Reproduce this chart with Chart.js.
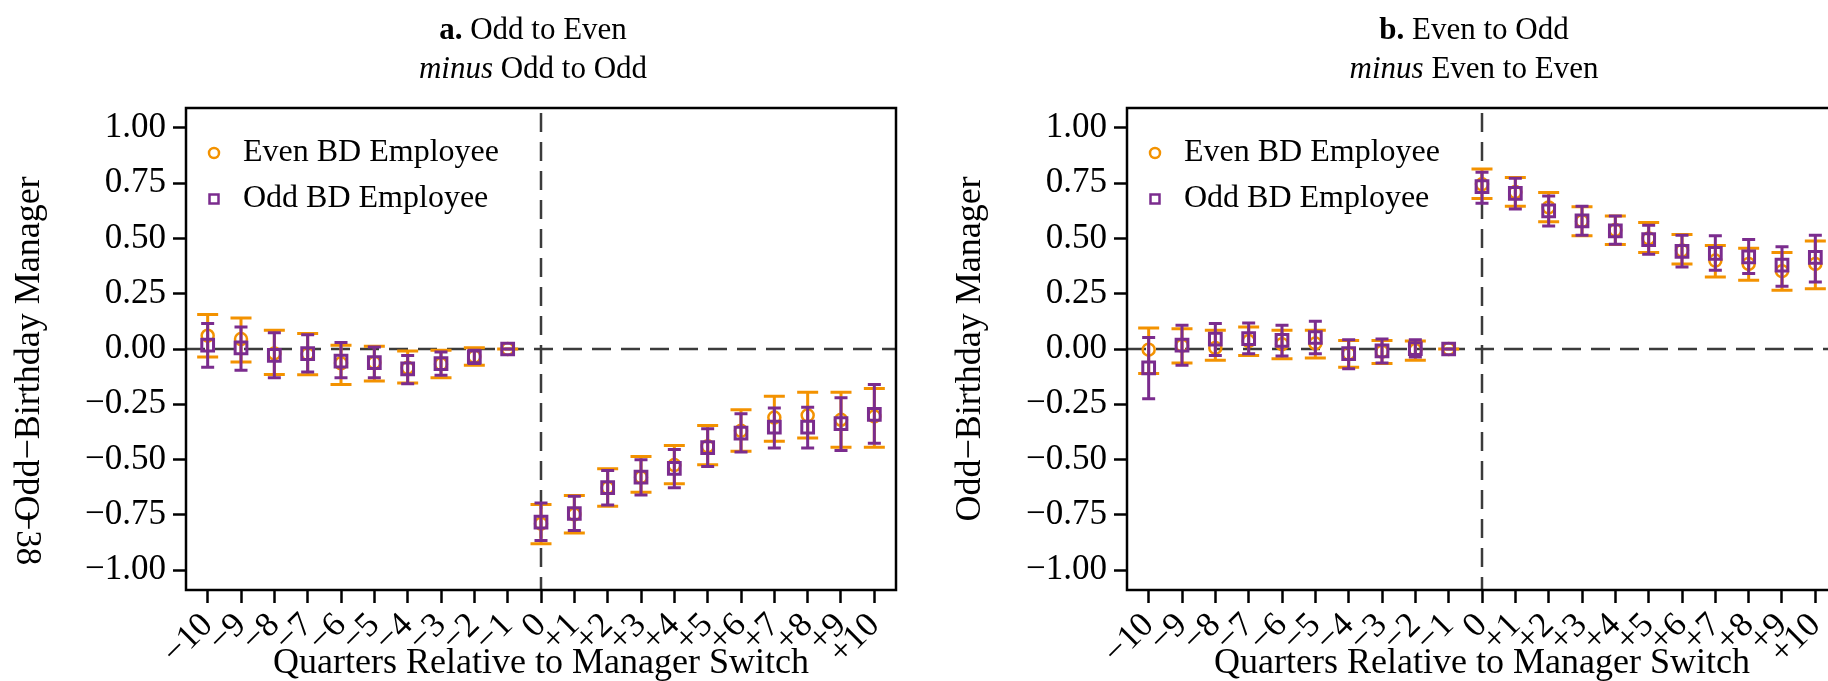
<!DOCTYPE html>
<html>
<head>
<meta charset="utf-8">
<script src="https://cdn.jsdelivr.net/npm/chart.js@4.4.1/dist/chart.umd.min.js"></script>
<style>
  html, body { margin: 0; padding: 0; width: 1828px; height: 681px; overflow: hidden; background: #fff; }
  canvas { position: absolute; top: 0; }
  #panelA { left: 0; }
  #panelB { left: 941px; }
</style>
</head>
<body>
<canvas id="panelA" width="941" height="690"></canvas>
<canvas id="panelB" width="941" height="690"></canvas>
<script>
const quarters = [-10, -9, -8, -7, -6, -5, -4, -3, -2, -1, 0, 1, 2, 3, 4, 5, 6, 7, 8, 9, 10];
const quarterLabels = ['\u221210', '\u22129', '\u22128', '\u22127', '\u22126', '\u22125', '\u22124', '\u22123', '\u22122', '\u22121',
    '0', '+1', '+2', '+3', '+4', '+5', '+6', '+7', '+8', '+9', '+10'];
const yTicks = [-1, -0.75, -0.5, -0.25, 0, 0.25, 0.5, 0.75, 1];
const seriesNames = ['Even BD Employee', 'Odd BD Employee'];

// a. Odd to Even minus Odd to Odd
const evenA   = [0.060, 0.045, -0.020, -0.023, -0.065, -0.062, -0.085, -0.068, -0.034, 0, -0.790, -0.748, -0.628, -0.580, -0.525, -0.440, -0.370, -0.310, -0.300, -0.320, -0.305];
const evenALo = [-0.036, -0.059, -0.115, -0.116, -0.161, -0.145, -0.154, -0.130, -0.074, 0, -0.881, -0.832, -0.711, -0.648, -0.610, -0.524, -0.462, -0.417, -0.403, -0.444, -0.444];
const evenAHi = [0.156, 0.140, 0.085, 0.070, 0.017, 0.012, -0.009, -0.006, 0.006, 0, -0.703, -0.663, -0.542, -0.486, -0.436, -0.346, -0.275, -0.214, -0.196, -0.196, -0.179];
const oddA    = [0.017, 0.005, -0.029, -0.021, -0.055, -0.062, -0.090, -0.066, -0.036, 0, -0.783, -0.744, -0.627, -0.580, -0.540, -0.446, -0.380, -0.353, -0.353, -0.338, -0.296];
const oddALo  = [-0.082, -0.096, -0.130, -0.104, -0.130, -0.130, -0.157, -0.119, -0.066, 0, -0.866, -0.821, -0.705, -0.660, -0.628, -0.531, -0.466, -0.448, -0.448, -0.459, -0.426];
const oddAHi  = [0.115, 0.100, 0.074, 0.065, 0.029, 0.009, -0.029, -0.014, -0.006, 0, -0.696, -0.666, -0.549, -0.501, -0.454, -0.361, -0.293, -0.267, -0.263, -0.220, -0.160];

// b. Even to Odd minus Even to Even
const evenB   = [-0.003, 0.015, 0.005, 0.036, 0.022, 0.025, -0.021, -0.012, -0.005, 0, 0.745, 0.710, 0.640, 0.578, 0.538, 0.500, 0.445, 0.400, 0.385, 0.352, 0.385];
const evenBLo = [-0.111, -0.063, -0.051, -0.029, -0.044, -0.041, -0.082, -0.066, -0.051, 0, 0.681, 0.646, 0.575, 0.512, 0.473, 0.437, 0.384, 0.326, 0.311, 0.266, 0.273];
const evenBHi = [0.095, 0.092, 0.085, 0.100, 0.085, 0.085, 0.039, 0.039, 0.036, 0, 0.814, 0.776, 0.708, 0.643, 0.602, 0.572, 0.518, 0.468, 0.456, 0.437, 0.489];
const oddB    = [-0.085, 0.017, 0.045, 0.047, 0.039, 0.052, -0.021, -0.009, 0.002, 0, 0.734, 0.704, 0.625, 0.580, 0.534, 0.495, 0.442, 0.432, 0.417, 0.379, 0.414];
const oddBLo  = [-0.225, -0.074, -0.029, -0.021, -0.032, -0.021, -0.089, -0.063, -0.036, 0, 0.659, 0.633, 0.556, 0.515, 0.474, 0.429, 0.371, 0.356, 0.341, 0.284, 0.303];
const oddBHi  = [0.052, 0.107, 0.115, 0.118, 0.107, 0.125, 0.042, 0.045, 0.042, 0, 0.799, 0.772, 0.692, 0.646, 0.601, 0.560, 0.515, 0.512, 0.495, 0.462, 0.515];

const titleA = [['a.', ' Odd to Even'], ['minus', ' Odd to Odd']];
const titleB = [['b.', ' Even to Odd'], ['minus', ' Even to Even']];

const ORANGE = '#F39200';
const PURPLE = '#7B2C8E';
const serif = '"Liberation Serif", "DejaVu Serif", serif';

// whiskers drawn just before each dataset's own points
const errorBars = {
    id: 'errorBars',
    beforeDatasetDraw(chart, args) {
        const ds = chart.data.datasets[args.index];
        if (!ds.lo) return;
        const {ctx, scales: {x, y}} = chart;
        const half = ds.capWidth / 2;
        ctx.save();
        ctx.strokeStyle = ds.borderColor;
        ctx.lineWidth = ds.errWidth;
        ds.data.forEach((p, i) => {
            const px = x.getPixelForValue(p.x);
            const top = y.getPixelForValue(ds.hi[i]);
            const bot = y.getPixelForValue(ds.lo[i]);
            ctx.beginPath();
            ctx.moveTo(px, top); ctx.lineTo(px, bot);
            ctx.moveTo(px - half, top); ctx.lineTo(px + half, top);
            ctx.moveTo(px - half, bot); ctx.lineTo(px + half, bot);
            ctx.stroke();
        });
        ctx.restore();
    }
};

const zeroLines = {
    id: 'zeroLines',
    beforeDatasetsDraw(chart) {
        const {ctx, chartArea: a, scales: {x, y}} = chart;
        const x0 = x.getPixelForValue(0), y0 = y.getPixelForValue(0);
        ctx.save();
        ctx.strokeStyle = '#3b3b3b';
        ctx.lineWidth = 2.5;
        ctx.setLineDash([19, 10]);
        ctx.beginPath(); ctx.moveTo(a.left, y0); ctx.lineTo(a.right, y0); ctx.stroke();
        ctx.beginPath(); ctx.moveTo(x0, a.top + 5); ctx.lineTo(x0, a.bottom); ctx.stroke();
        ctx.restore();
    }
};

const frameAndText = {
    id: 'frameAndText',
    afterDraw(chart, args, opts) {
        const {ctx, chartArea: a} = chart;
        ctx.save();
        // box
        ctx.strokeStyle = '#000';
        ctx.lineWidth = 2.5;
        ctx.strokeRect(a.left, a.top, a.right - a.left, a.bottom - a.top);

        // legend in the upper-left corner
        ctx.font = '32px ' + serif;
        ctx.textBaseline = 'middle';
        ctx.textAlign = 'left';
        chart.data.datasets.forEach((ds, i) => {
            const cy = a.top + 45 + i * 46;
            const cx = a.left + 28;
            ctx.strokeStyle = ds.borderColor;
            ctx.lineWidth = 2.5;
            ctx.beginPath();
            if (ds.pointStyle === 'circle') ctx.arc(cx, cy, 5, 0, 2 * Math.PI);
            else ctx.rect(cx - 4.5, cy - 4.5, 9, 9);
            ctx.stroke();
            ctx.fillStyle = '#000';
            ctx.fillText(ds.label, a.left + 57, cy);
        });

        // two-line panel title
        const cx = (a.left + a.right) / 2 - 8;
        ctx.textBaseline = 'alphabetic';
        opts.lines.forEach((parts, i) => {
            const first = (i === 0 ? 'bold ' : 'italic ') + '31px ' + serif;
            const rest = '31px ' + serif;
            ctx.font = first; const w1 = ctx.measureText(parts[0]).width;
            ctx.font = rest; const w2 = ctx.measureText(parts[1]).width;
            const x = cx - (w1 + w2) / 2, yb = 39 + i * 39;
            ctx.font = first; ctx.fillText(parts[0], x, yb);
            ctx.font = rest; ctx.fillText(parts[1], x + w1, yb);
        });

        if (opts.stamp) {
            ctx.translate(opts.stamp.x, opts.stamp.y);
            ctx.rotate(Math.PI / 2);
            ctx.font = '35px ' + serif;
            ctx.textAlign = 'center';
            ctx.textBaseline = 'middle';
            ctx.fillText(opts.stamp.text, 0, 0);
        }
        ctx.restore();
    }
};

function points(xs, ys) {
    return xs.map((q, i) => ({x: q, y: ys[i]}));
}

function tickGrid() {
    return {display: true, drawOnChartArea: false, drawTicks: true, tickLength: 13, tickWidth: 2.5, tickColor: '#000'};
}

function makeChart(id, even, evenLo, evenHi, odd, oddLo, oddHi, title, stamp) {
    return new Chart(document.getElementById(id), {
        type: 'scatter',
        data: {
            datasets: [{
                label: seriesNames[0],
                data: points(quarters, even),
                lo: evenLo, hi: evenHi, capWidth: 21, errWidth: 3,
                borderColor: ORANGE,
                pointBorderColor: ORANGE,
                pointBackgroundColor: 'rgba(0,0,0,0)',
                pointStyle: 'circle',
                pointRadius: 6,
                pointBorderWidth: 2.5,
                order: 2
            }, {
                label: seriesNames[1],
                data: points(quarters, odd),
                lo: oddLo, hi: oddHi, capWidth: 13, errWidth: 3,
                borderColor: PURPLE,
                pointBorderColor: PURPLE,
                pointBackgroundColor: 'rgba(0,0,0,0)',
                pointStyle: 'rect',
                pointRadius: 8.3,
                pointBorderWidth: 3,
                order: 1
            }]
        },
        options: {
            responsive: false,
            animation: false,
            events: [],
            layout: {padding: {top: 108, right: 45, bottom: 0, left: 0}},
            scales: {
                x: {
                    type: 'linear',
                    min: -10.65,
                    max: 10.65,
                    afterBuildTicks: s => { s.ticks = quarters.map(v => ({value: v})); },
                    afterFit: s => { s.height = 100; },
                    grid: tickGrid(),
                    border: {display: false},
                    ticks: {
                        autoSkip: false, minRotation: 45, maxRotation: 45, padding: 2,
                        color: '#000', font: {family: serif, size: 35},
                        callback: v => quarterLabels[quarters.indexOf(v)]
                    },
                    title: {
                        display: true, text: 'Quarters Relative to Manager Switch', color: '#000',
                        font: {family: serif, size: 36}, padding: {top: 0, bottom: 5}
                    }
                },
                y: {
                    min: -1.09,
                    max: 1.09,
                    afterBuildTicks: s => { s.ticks = yTicks.map(v => ({value: v})); },
                    afterFit: s => { s.width = 186; },
                    grid: tickGrid(),
                    border: {display: false},
                    ticks: {
                        padding: 7, color: '#000', font: {family: serif, size: 35},
                        callback: v => (v < 0 ? '\u2212' : '') + Math.abs(v).toFixed(2)
                    },
                    title: {
                        display: true, text: 'Odd\u2212Birthday Manager', color: '#000',
                        font: {family: serif, size: 36}, padding: {top: 8, bottom: 0}
                    }
                }
            },
            plugins: {
                legend: {display: false},
                tooltip: {enabled: false},
                frameAndText: {lines: title, stamp: stamp}
            }
        },
        plugins: [zeroLines, errorBars, frameAndText]
    });
}

makeChart('panelA', evenA, evenALo, evenAHi, oddA, oddALo, oddAHi, titleA, {text: '\u221238', x: 26, y: 538});
makeChart('panelB', evenB, evenBLo, evenBHi, oddB, oddBLo, oddBHi, titleB, null);
</script>
</body>
</html>
